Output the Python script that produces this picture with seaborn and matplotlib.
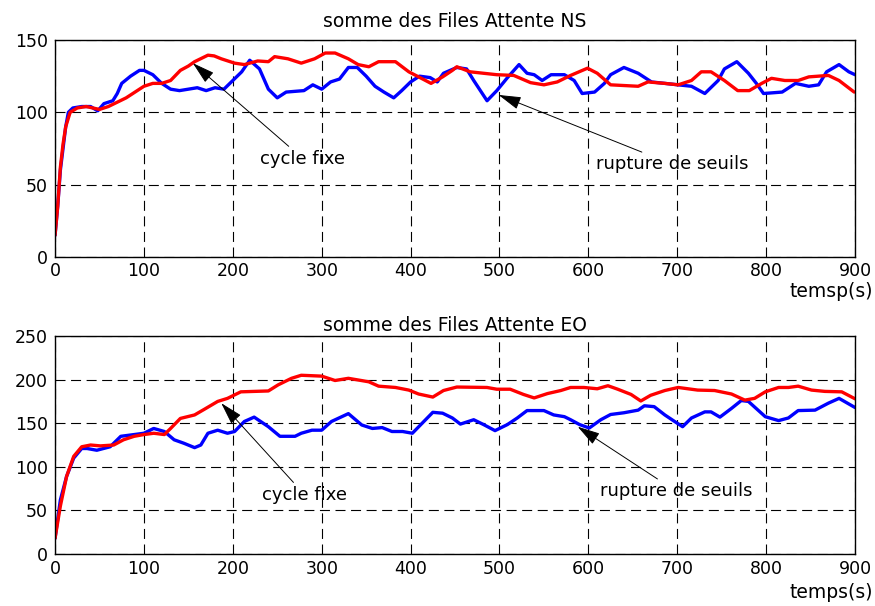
import seaborn as sns
import matplotlib.pyplot as plt
import pandas as pd

# --- NS queue sums ---
ns_blue_t = [0, 3, 6, 9, 12, 15, 20, 30, 40, 48, 55, 65, 70, 75, 85, 95, 100, 110, 120, 130,
             140, 150, 160, 170, 180, 190, 200, 210, 219, 230, 240, 250, 260, 280, 290, 300,
             310, 320, 330, 340, 350, 360, 370, 381, 390, 400, 410, 422, 430, 437, 452, 463,
             471, 486, 497, 509, 522, 531, 539, 548, 558, 573, 584, 593, 607, 618, 625, 640,
             656, 671, 686, 701, 716, 731, 746, 753, 767, 780, 789, 797, 818, 833, 848, 859,
             868, 882, 893, 900]
ns_blue = [15, 35, 60, 75, 90, 100, 103, 104, 104, 101, 106, 108, 113, 120, 125, 129, 129, 126,
           120, 116, 115, 116, 117, 115, 117, 116, 122, 128, 136, 130, 116, 110, 114, 115, 119,
           116, 121, 123, 131, 131, 125, 118, 114, 110, 115, 121, 125, 124, 121, 127, 131, 130,
           122, 108, 115, 124, 133, 127, 126, 122, 126, 126, 122, 113, 114, 120, 126, 131, 127,
           121, 120, 119, 118, 113, 122, 130, 135, 127, 120, 113, 114, 120, 118, 119, 128, 133,
           128, 126]
ns_red_t = [0, 3, 6, 9, 12, 17, 25, 35, 50, 60, 70, 80, 90, 100, 110, 120, 130, 141, 150, 157,
            172, 179, 187, 202, 213, 228, 240, 247, 262, 277, 292, 304, 315, 330, 341, 353, 364,
            383, 398, 409, 423, 436, 447, 452, 467, 482, 497, 516, 535, 550, 565, 580, 599, 610,
            625, 656, 667, 686, 701, 716, 727, 738, 753, 768, 781, 795, 806, 821, 836, 848, 870,
            882, 899]
ns_red = [15, 35, 62, 78, 90, 100, 103, 104, 102, 104, 107, 110, 114, 118, 120, 120, 122, 129,
          132, 135, 139.5, 139, 137, 134, 133, 135.5, 135, 138.5, 137, 134, 137, 141, 141, 137,
          133, 131.5, 135, 135, 128, 124.5, 120, 124.5, 129, 131.5, 128, 127, 126, 125.5, 120.5,
          119, 121, 125.5, 130.5, 127, 119, 118, 121, 120, 119, 122, 128, 128, 122, 115, 115,
          120, 123.5, 122, 122, 124.5, 125.5, 122, 114]

# --- EO queue sums ---
eo_blue_t = [0, 6, 13, 21, 30, 36, 47, 62, 74, 89, 100, 111, 123, 134, 145, 157, 164, 172, 183,
             194, 202, 213, 224, 240, 253, 270, 277, 289, 300, 311, 330, 345, 357, 368, 379, 391,
             402, 413, 425, 436, 447, 456, 471, 482, 495, 509, 520, 531, 550, 561, 573, 580, 590,
             601, 614, 625, 640, 656, 663, 674, 686, 697, 706, 716, 731, 738, 748, 761, 772, 780,
             799, 814, 825, 836, 855, 870, 882, 888, 900]
eo_blue = [18, 62, 89, 110, 121, 121, 119, 123, 135, 137, 138.5, 144, 140.5, 131, 127, 122, 125,
           138.5, 142, 138.5, 140.5, 152, 157, 146, 135, 135, 138.5, 142, 142, 152, 161, 148, 144,
           145, 140.5, 140.5, 138.5, 150, 162.5, 161.5, 156, 149, 154, 148.5, 141.5, 148.5, 156,
           164.5, 164.5, 159.5, 157.5, 154, 148.5, 144.5, 154, 160, 162, 165, 170, 169, 159.5, 152,
           146, 156, 163, 163, 157, 167, 176, 175, 157.5, 153, 156, 164.5, 165, 173, 178.5, 175,
           168]
eo_red_t = [0, 6, 13, 21, 30, 40, 51, 66, 77, 89, 100, 111, 123, 130, 141, 157, 168, 183, 194,
            209, 240, 251, 266, 277, 300, 315, 330, 353, 364, 383, 398, 409, 425, 437, 452, 486,
            497, 512, 527, 539, 554, 569, 580, 595, 610, 622, 633, 648, 659, 670, 686, 701, 723,
            742, 761, 776, 787, 799, 814, 825, 836, 851, 866, 885, 900]
eo_red = [18, 55, 89, 112, 123, 125, 124, 125, 131, 135, 137, 138.5, 137, 144, 155.5, 159.5, 166,
          175, 178.5, 186, 187, 194, 201.5, 205, 204, 199, 201.5, 197.5, 192.5, 191, 188, 183.5,
          180, 187.5, 191.5, 191, 189, 189, 183, 179, 184, 187.5, 191, 191, 189.5, 193, 189, 183,
          175.5, 182, 187.5, 191, 188, 187.5, 183.5, 176.5, 178.5, 186, 191, 191, 192.5, 188,
          186.5, 186, 178]


def draw_panel(ax, blue_t, blue, red_t, red, title, xlabel, ymax, title_pad, label_y):
    df_b = pd.DataFrame({"t": blue_t, "v": blue})
    df_r = pd.DataFrame({"t": red_t, "v": red})
    sns.lineplot(data=df_b, x="t", y="v", ax=ax, color="#0000FF", linewidth=2.4)
    sns.lineplot(data=df_r, x="t", y="v", ax=ax, color="#FF0000", linewidth=2.4)
    ax.set_xlim(0, 900)
    ax.set_ylim(0, ymax)
    ax.set_xticks(range(0, 901, 100))
    ax.set_yticks(range(0, ymax + 1, 50))
    ax.grid(True, color="black", linestyle=(0, (9, 5)), linewidth=0.8)
    ax.tick_params(direction="in", length=3, labelsize=12.5, colors="black")
    ax.tick_params(axis="x", pad=4)
    ax.tick_params(axis="y", pad=5)
    ax.set_title(title, fontsize=13.5, pad=title_pad, color="black")
    ax.set_xlabel("")
    ax.set_ylabel("")
    for s in ax.spines.values():
        s.set_color("black")
        s.set_linewidth(1.0)
    ax.text(1.0225, label_y, xlabel, transform=ax.transAxes, ha="right", va="baseline",
            fontsize=13.5, color="black")


sns.set_theme(style="white")
plt.rcParams['font.family'] = ['DejaVu Sans']
plt.rcParams['text.color'] = 'black'

fig = plt.figure(figsize=(8.75, 6.06), dpi=100)
ax1 = fig.add_axes([0.0629, 0.576, 0.9143, 0.358])
ax2 = fig.add_axes([0.0629, 0.0858, 0.9143, 0.3597])

draw_panel(ax1, ns_blue_t, ns_blue, ns_red_t, ns_red, "somme des Files Attente NS", "temsp(s)",
           150, 9, -0.184)
draw_panel(ax2, eo_blue_t, eo_blue, eo_red_t, eo_red, "somme des Files Attente EO", "temps(s)",
           250, 3.5, -0.202)

arrow = dict(arrowstyle="-|>,head_length=0.7,head_width=0.2", color="black", lw=0.7,
             mutation_scale=20, shrinkA=0, shrinkB=0)
ax1.annotate("cycle fixe", xy=(155, 134), xytext=(231, 68), fontsize=13, color="black",
             ha="left", va="center", arrowprops=arrow)
ax1.annotate("rupture de seuils", xy=(499, 112), xytext=(609, 64), fontsize=13, color="black",
             ha="left", va="center", arrowprops=arrow)
ax2.annotate("cycle fixe", xy=(187, 173), xytext=(233, 68), fontsize=13, color="black",
             ha="left", va="center", arrowprops=arrow)
ax2.annotate("rupture de seuils", xy=(588, 146), xytext=(613, 72), fontsize=13, color="black",
             ha="left", va="center", arrowprops=arrow)

fig.savefig("out.png", dpi=100, facecolor="white")
